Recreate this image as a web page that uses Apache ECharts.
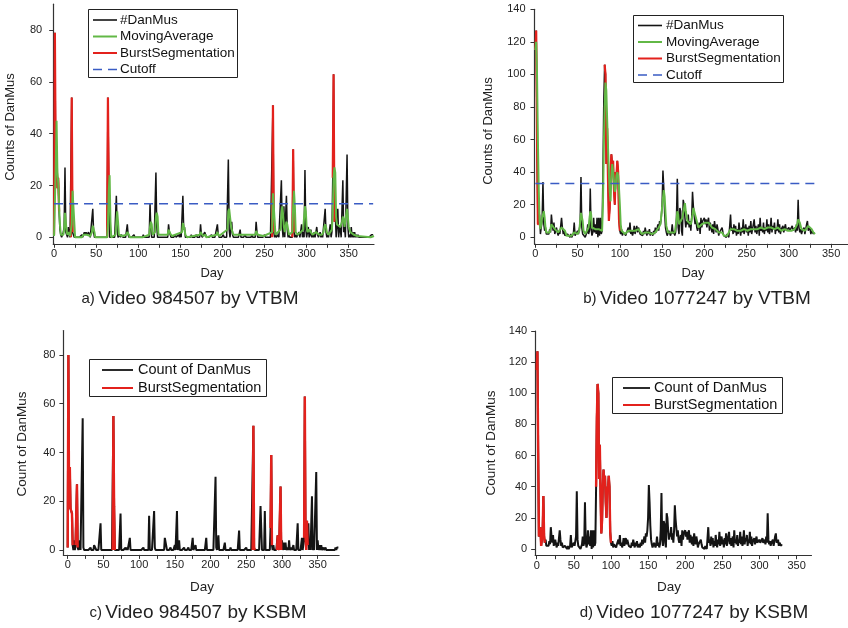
<!DOCTYPE html>
<html>
<head>
<meta charset="utf-8">
<script src="https://cdn.jsdelivr.net/npm/echarts@6/dist/echarts.min.js"></script>
<style>
  html, body { margin: 0; padding: 0; background: #fff; }
  #chart { width: 848px; height: 628px; }
</style>
</head>
<body>
<div id="chart"></div>
<script>
// ---- Video 984507 (panels a and c): daily DanMu counts, listed for non-zero days only ----
const countsA = [
  [0,1],[1,79],[2,25],[3,32],[4,19],[5,23],[6,10],[7,3],[8,1],[10,1],[11,2],[12,4],[13,27],[14,2],[15,1],
  [17,4],[18,1],[21,54],[22,2],[23,1],[33,1],[36,2],[37,1],[38,2],[39,1],[40,1],[41,2],[42,1],[46,11],[47,2],
  [64,54],[65,18],[74,16],[75,3],[78,1],[80,1],[81,1],[87,5],[88,1],[95,1],[106,1],[114,13],[115,3],
  [121,25],[122,4],[136,5],[137,2],[138,1],[144,1],[148,1],[150,2],[153,16],[154,3],[155,4],[163,1],
  [169,1],[174,5],[175,1],[179,2],[180,1],[187,1],[194,5],[195,1],[201,1],[207,30],[208,3],[211,6],[212,1],
  [221,3],[227,1],[235,1],[240,6],[241,2],[250,1],[260,51],[261,2],[263,1],[266,1],[270,22],[271,4],[273,12],
  [276,16],[277,3],[279,1],[284,34],[285,2],[287,1],[291,2],[294,5],[296,2],[298,26],[299,3],[302,4],
  [304,1],[305,3],[307,1],[309,2],[312,4],[313,1],[316,2],[318,1],[322,11],[323,2],[325,1],[328,5],[330,2],
  [331,23],[332,63],[333,6],[334,10],[336,4],[337,11],[339,4],[340,3],[343,22],[344,2],[345,4],[348,32],
  [349,4],[351,1],[353,4],[355,2],[357,2],[359,1],[361,1],[377,1],[378,1],[379,1]
];
const countsC = [
  [0,1],[1,80],[2,17],[3,34],[4,17],[5,16],[6,15],[7,2],[9,4],[11,2],[12,2],[13,27],[14,1],[17,4],[21,54],
  [22,1],[32,1],[37,2],[38,2],[39,2],[46,11],[64,55],[65,18],[74,15],[81,1],[83,1],[87,5],[106,1],[114,14],
  [121,16],[122,1],[136,5],[137,5],[138,5],[144,1],[150,2],[153,16],[156,4],[163,1],[169,1],[175,5],[179,2],
  [194,5],[207,30],[208,1],[211,6],[220,3],[228,1],[240,8],[250,1],[260,51],[261,1],[270,18],[271,9],
  [276,16],[284,9],[285,39],[286,2],[288,2],[294,6],[295,1],[298,26],[300,4],[303,3],[305,3],[308,1],
  [310,4],[313,1],[316,2],[322,11],[328,5],[331,5],[332,63],[333,5],[335,12],[336,2],[337,11],[339,4],
  [342,22],[344,2],[348,32],[350,4],[353,2],[355,2],[358,1],[361,1],[375,1],[377,1],[378,1],[379,1]
];
const lastDayA = 379;
// moving average for panel a, as [day, value] vertices
const movingAvgA = [
  [0,0.5],[1,1],[2,27],[3,45],[4,25],[5,21],[6,12],[7,5],[8,1],[9,1],[11,1],[12,3],[13,9.5],[14,9.5],[15,2],
  [16,1],[17,2],[18,2],[19,0.5],[20,0],[21,5],[22,18],[23,18],[24,6],[25,0],[33,0],[35,1],[37,1.5],[39,1],
  [41,1.5],[43,0.5],[45,2],[46,4.5],[47,4.5],[48,2],[49,0],[63,0],[64,5],[65,18],[66,24],[67,6],[68,0],
  [73,1],[74,6],[75,10],[76,6],[77,1],[79,1],[81,0.5],[86,1],[87,2],[88,2],[89,1],[90,0],[105,0],[106,0.5],
  [113,1],[114,4],[115,6],[116,5],[117,1],[120,2],[121,8],[122,9.5],[123,8],[124,1],[135,1],[136,3],[137,3],
  [138,1.5],[140,0.5],[152,2],[153,5.5],[154,6],[155,3],[156,1],[158,0],[173,1],[174,2],[175,2],[177,0.5],
  [179,1],[180,1],[181,0],[193,1],[194,2],[195,2],[196,0.5],[206,3],[207,10],[208,11],[209,11],[210,5],
  [211,3],[212,2],[213,1],[220,1],[221,1.5],[222,1],[239,1],[240,2.5],[241,2.5],[242,1],[249,0.5],[259,2],
  [260,17],[261,17],[262,17],[263,1],[264,0.5],[269,3],[270,8],[271,12],[272,9],[273,4],[274,2],[275,4],
  [276,6],[277,5],[278,5],[279,1],[283,2],[284,12],[285,18],[286,12],[287,2],[289,1],[293,2],[294,2],
  [296,3],[297,8],[298,12],[299,10],[300,4],[301,2],[303,3],[305,2],[307,1],[309,1],[311,2],[313,2],
  [315,1],[318,1],[320,2],[321,4],[322,5],[323,4],[324,2],[326,1],[328,2],[330,3],[331,9],[332,23],
  [333,27],[334,25],[335,8],[336,5],[337,5],[338,5],[340,4],[342,6],[343,8],[344,7],[345,4],[347,9],
  [348,11],[349,11],[350,4],[352,2],[354,2],[356,1],[358,1],[360,0.5],[362,0],[376,0],[377,0.5],[380,0.5]
];
const cutoffA = 13;
const burstsVtbmA = [[0,6],[20,22],[63,65],[259,261],[283,285],[331,334]];
const burstsKsbmC = [[0,7],[11,14],[63,66],[259,262],[284,286],[293,299],[331,336]];

// ---- Video 1077247 (panels b and d): daily DanMu counts from day 0 ----
const countsB = [
  115,127,62,8,8,14,2,6,10,34,   8,4,6,2,3,1,2,5,3,14,      8,4,9,2,3,6,3,1,4,2,
  3,12,6,2,4,1,1,0,2,1,          1,0,2,0,1,2,9,1,0,2,       4,2,3,8,37,6,2,1,3,0,
  1,3,8,2,4,30,5,1,3,12,         3,8,2,12,0,12,1,12,2,4,    40,84,106,100,45,67,35,10,18,40,
  51,44,47,30,20,40,38,47,40,11, 4,2,5,1,3,2,4,1,3,2,       6,3,9,2,4,1,3,7,2,5,
  7,3,6,4,2,1,3,1,4,2,           6,3,1,4,2,5,1,3,2,1,       4,2,6,3,5,8,4,10,8,12,
  20,41,30,15,6,3,1,2,4,3,       1,3,8,2,4,1,3,12,36,6,     2,18,16,4,1,23,20,12,6,10,
  8,14,6,10,4,12,28,19,18,8,     12,6,4,3,9,2,12,6,10,11,   12,8,11,6,10,12,4,9,10,3,
  8,2,10,6,3,8,5,1,3,4,          2,6,3,1,0,1,0,2,1,0,       1,14,4,6,2,8,3,7,1,5,
  2,9,4,1,6,3,11,2,5,8,          3,6,1,7,3,10,2,5,4,11,     3,7,2,5,8,1,12,4,6,3,
  9,2,6,4,11,3,8,2,5,12,         3,7,5,9,2,6,4,11,3,8,      2,5,4,7,3,6,8,4,5,3,
  6,4,5,3,7,4,5,6,3,8,           4,23,6,3,5,2,4,3,6,2,      5,8,10,4,3,6,2,4,3,2,
  3,2
];
// moving average for panel b, as [day, value] vertices
const movingAvgB = [
  [0,115],[1,120],[2,100],[3,60],[4,30],[5,10],[6,5],[7,8],[8,12],[9,14],[10,16],[11,12],[12,6],[13,3],
  [15,2],[17,3],[19,8],[21,9],[23,5],[25,6],[27,3],[29,3],[31,6],[33,7],[35,4],[37,1],[40,1],[43,1],
  [46,3],[48,2],[50,2],[52,4],[54,15],[55,16],[56,10],[57,4],[59,2],[61,3],[63,6],[65,16],[66,14],[67,6],
  [69,6],[71,5],[73,6],[75,5],[77,5],[79,4],[80,20],[81,55],[82,80],[83,95],[84,90],[85,72],[86,55],
  [87,40],[88,28],[89,22],[90,38],[91,45],[92,40],[93,35],[94,28],[95,30],[96,38],[97,40],[98,38],
  [99,30],[100,20],[101,8],[102,4],[104,3],[106,2],[108,3],[110,4],[112,5],[114,4],[116,3],[118,4],
  [120,5],[122,5],[124,4],[126,2],[128,2],[130,3],[132,4],[134,3],[136,3],[138,2],[140,2],[142,3],
  [144,4],[146,6],[148,8],[150,18],[151,24],[152,29],[153,25],[154,15],[155,7],[157,3],[159,2],[161,3],
  [163,4],[165,3],[167,10],[168,16],[169,14],[170,8],[172,10],[174,12],[176,18],[177,21],[178,16],
  [180,10],[182,9],[184,8],[186,14],[187,18],[188,19],[189,17],[191,10],[193,6],[195,6],[197,8],[199,9],
  [201,9],[203,8],[205,9],[207,8],[209,6],[211,5],[213,5],[215,5],[217,3],[219,3],[221,3],[223,1],
  [225,1],[227,1],[229,1],[231,5],[233,5],[235,5],[237,4],[239,4],[241,4],[243,4],[245,5],[247,5],
  [249,5],[251,4],[253,4],[255,5],[257,5],[259,5],[261,5],[263,5],[265,5],[267,6],[269,5],[271,5],
  [273,6],[275,6],[277,5],[279,6],[281,6],[283,5],[285,5],[287,6],[289,5],[291,4],[293,5],[295,5],
  [297,5],[299,4],[301,4],[303,4],[305,5],[307,5],[309,5],[310,8],[311,11],[312,11],[313,9],[315,5],
  [317,4],[319,4],[321,5],[323,7],[325,7],[327,5],[329,3],[331,2]
];
const cutoffB = 33;
const burstsVtbmB = [[0,4],[82,100]];
const burstsKsbmD = [[0,11],[80,100]];

// ---- axis ticks ----
const dayTicks = [0, 50, 100, 150, 200, 250, 300, 350];
const dayMinorTicks = [0, 25, 50, 75, 100, 125, 150, 175, 200, 225, 250, 275, 300, 325, 350];
const countTicksA = [0, 20, 40, 60, 80];
const countTicksB = [0, 20, 40, 60, 80, 100, 120, 140];

// ---- legend entries ----
const legendNamesVtbm = ['#DanMus', 'MovingAverage', 'BurstSegmentation', 'Cutoff'];
const legendNamesKsbm = ['Count of DanMus', 'BurstSegmentation'];

// ---- helpers that turn the arrays into series data ----
function fromSparse(pairs, lastDay) {
  const daily = new Array(lastDay + 1).fill(0);
  pairs.forEach(([d, v]) => { daily[d] = v; });
  return daily.map((v, d) => [d, v]);
}
function fromDense(values) {
  return values.map((v, d) => [d, v]);
}
function inBursts(daily, ranges) {
  return daily.map(([d, v]) => ranges.some(([s, e]) => d >= s && d <= e) ? [d, v] : [d, null]);
}

const dailyA = fromSparse(countsA, lastDayA);
const dailyC = fromSparse(countsC, lastDayA);
const dailyB = fromDense(countsB);
const lastDayB = countsB.length - 1;

const FONT = 'Liberation Sans, Arial, Helvetica, sans-serif';
const BLACK = '#141414';
const GREEN = '#62b846';
const RED = '#e3211c';
const BLUE = '#3a5cc4';
const DASH = [9, 6];

// line style of each legend entry
const entryStyle = {
  '#DanMus': { stroke: BLACK, lineWidth: 1.6 },
  'Count of DanMus': { stroke: BLACK, lineWidth: 1.8 },
  'MovingAverage': { stroke: GREEN, lineWidth: 2 },
  'BurstSegmentation': { stroke: RED, lineWidth: 2 },
  'Cutoff': { stroke: BLUE, lineWidth: 1.6, lineDash: DASH }
};

function xAxis(gridIndex, min, max) {
  return {
    type: 'value', gridIndex, min, max,
    axisLine: { show: true, onZero: false, lineStyle: { color: '#333', width: 1.2 } },
    axisTick: { show: true, length: 4, customValues: dayMinorTicks, lineStyle: { color: '#333' } },
    axisLabel: { customValues: dayTicks, color: '#222', fontSize: 11, fontFamily: FONT, margin: 5 },
    splitLine: { show: false }
  };
}
function yAxis(gridIndex, min, max, ticks, margin) {
  return {
    type: 'value', gridIndex, min, max,
    axisLine: { show: true, onZero: false, lineStyle: { color: '#333', width: 1.2 } },
    axisTick: { show: true, length: 4, customValues: ticks, lineStyle: { color: '#333' } },
    axisLabel: { customValues: ticks, color: '#222', fontSize: 11, fontFamily: FONT, margin },
    splitLine: { show: false }
  };
}
function line(name, idx, data, color, width, dash) {
  return {
    type: 'line', name, xAxisIndex: idx, yAxisIndex: idx, data,
    showSymbol: false, symbol: 'none', connectNulls: false,
    lineStyle: { color, width, type: dash || 'solid' }, itemStyle: { color },
    emphasis: { disabled: true }, silent: true
  };
}
// framed legend box: box = [left, top, width, height], rows = y of each entry,
// sample = [x1, x2] of the line sample, textX = start of the entry text
function legendBox(box, names, rows, sample, textX, fontSize) {
  const els = [{
    type: 'rect', z: 100,
    shape: { x: box[0] + 0.5, y: box[1] + 0.5, width: box[2], height: box[3] },
    style: { fill: '#fff', stroke: '#222', lineWidth: 1 }
  }];
  names.forEach((name, i) => {
    els.push({
      type: 'line', z: 101,
      shape: { x1: sample[0], y1: rows[i], x2: sample[1], y2: rows[i] },
      style: Object.assign({ fill: null }, entryStyle[name])
    });
    els.push({
      type: 'text', z: 101, x: textX, y: rows[i],
      style: { text: name, fontSize, fontFamily: FONT, fill: '#111', align: 'left', verticalAlign: 'middle' }
    });
  });
  return els;
}
function label(x, y, text, size, rotate) {
  return {
    type: 'text', x, y, rotation: rotate ? Math.PI / 2 : 0,
    style: { text, fontSize: size, fontFamily: FONT, fill: '#222', align: 'center', verticalAlign: 'middle' }
  };
}
function caption(x, y, tag, text) {
  return {
    type: 'text', x, y,
    style: {
      text: '{p|' + tag + '} {t|' + text + '}', align: 'center', verticalAlign: 'middle',
      rich: {
        p: { fontSize: 15, fontFamily: FONT, fill: '#222' },
        t: { fontSize: 19, fontFamily: FONT, fill: '#222' }
      }
    }
  };
}

const chart = echarts.init(document.getElementById('chart'), null, { renderer: 'canvas' });
chart.setOption({
  animation: false,
  backgroundColor: '#fff',
  grid: [
    { left: 53.2, top: 4.2, width: 320.8, height: 239.6 },
    { left: 534.5, top: 9.3, width: 315.2, height: 234.5 },
    { left: 63.4, top: 330.6, width: 275.7, height: 224.3 },
    { left: 535.2, top: 331, width: 276.3, height: 224.2 }
  ],
  xAxis: [xAxis(0, -1, 380), xAxis(1, -1, 370), xAxis(2, -6, 380), xAxis(3, -2, 370)],
  yAxis: [
    yAxis(0, -2.5, 90, countTicksA, 11),
    yAxis(1, -4, 140, countTicksB, 9),
    yAxis(2, -2, 90, countTicksA, 8),
    yAxis(3, -4, 140, countTicksB, 8)
  ],
  series: [
    // panel a
    line('#DanMus', 0, dailyA, BLACK, 1.5),
    line('BurstSegmentation', 0, inBursts(dailyA, burstsVtbmA), RED, 2.2),
    line('MovingAverage', 0, movingAvgA, GREEN, 2),
    line('Cutoff', 0, [[0, cutoffA], [lastDayA, cutoffA]], BLUE, 1.5, DASH),
    // panel b
    line('#DanMus', 1, dailyB, BLACK, 1.5),
    line('BurstSegmentation', 1, inBursts(dailyB, burstsVtbmB), RED, 2.2),
    line('MovingAverage', 1, movingAvgB, GREEN, 2),
    line('Cutoff', 1, [[0, cutoffB], [lastDayB, cutoffB]], BLUE, 1.5, DASH),
    // panel c
    line('Count of DanMus', 2, dailyC, BLACK, 2),
    line('BurstSegmentation', 2, inBursts(dailyC, burstsKsbmC), RED, 2.4),
    // panel d
    line('Count of DanMus', 3, dailyB, BLACK, 2),
    line('BurstSegmentation', 3, inBursts(dailyB, burstsKsbmD), RED, 2.4)
  ],
  graphic: [
    label(10, 127, 'Counts of DanMus', 13, true),
    label(488, 131, 'Counts of DanMus', 13, true),
    label(22, 444, 'Count of DanMus', 13.5, true),
    label(491, 443, 'Count of DanMus', 13.5, true),
    label(212, 273, 'Day', 13),
    label(693, 273, 'Day', 13),
    label(202, 587, 'Day', 13.5),
    label(669, 587, 'Day', 13.5),
    caption(190, 299, 'a)', 'Video 984507 by VTBM'),
    caption(697, 299, 'b)', 'Video 1077247 by VTBM'),
    caption(198, 613, 'c)', 'Video 984507 by KSBM'),
    caption(694, 613, 'd)', 'Video 1077247 by KSBM')
  ]
    .concat(legendBox([88, 9, 149, 68], legendNamesVtbm, [20, 36.5, 53, 69.5], [93, 117], 120, 13.5))
    .concat(legendBox([633, 15, 150, 67], legendNamesVtbm, [25.5, 42, 58.5, 75], [638, 662], 666, 13.5))
    .concat(legendBox([89, 359, 177, 37], legendNamesKsbm, [370, 388], [102, 133], 138, 14.5))
    .concat(legendBox([612, 377, 170, 36], legendNamesKsbm, [388, 405], [623, 650], 654, 14.5))
});
</script>
</body>
</html>
